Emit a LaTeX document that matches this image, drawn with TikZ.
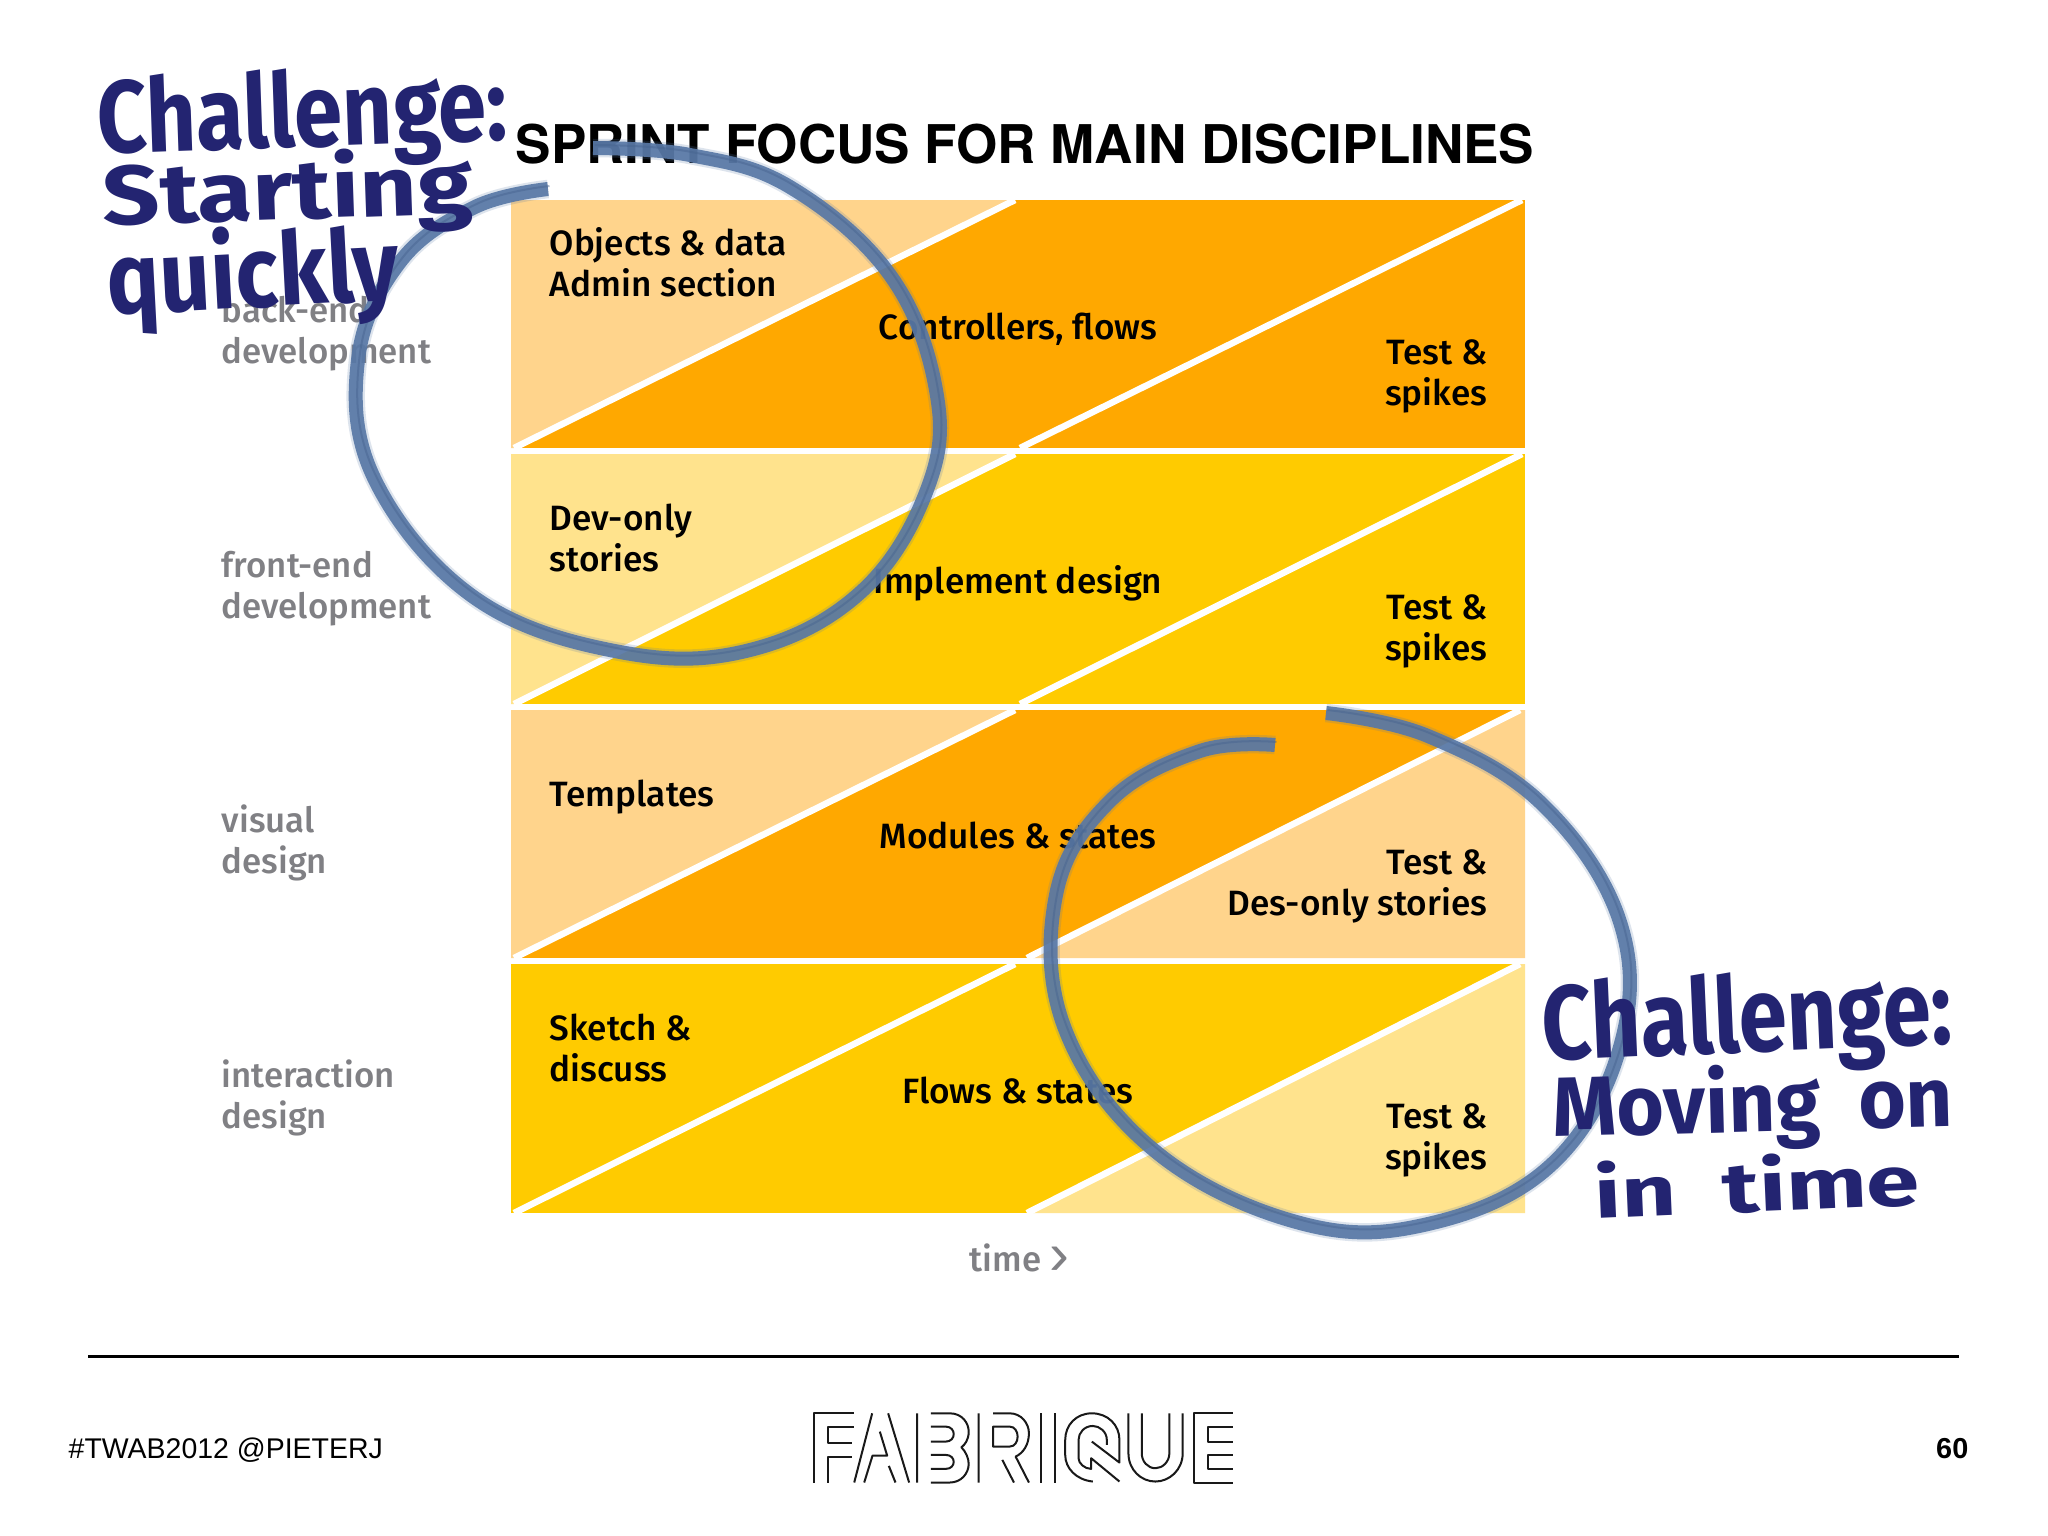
\documentclass[tikz,border=0pt]{standalone}
\usepackage{graphicx}
\usepackage{fontspec}
\setmainfont{Liberation Sans}
\newfontfamily\labfont{Fira Sans Medium}
\newfontfamily\titlefont{TeX Gyre Heros}
\newfontfamily\handfont{Fira Sans}
\definecolor{lorange}{HTML}{FFD48C}
\definecolor{dorange}{HTML}{FFA800}
\definecolor{lyellow}{HTML}{FFE38D}
\definecolor{dyellow}{HTML}{FFCB00}
\definecolor{graytxt}{HTML}{808084}
\definecolor{penblue}{HTML}{232471}
\definecolor{ringblue}{HTML}{5878A6}
\definecolor{ringdark}{HTML}{46638F}
\newcommand{\handtxt}[3]{\resizebox{#1}{#2}{\bfseries\handfont #3}}
\tikzset{
  blacklab/.style={font=\labfont\fontsize{10}{11.4}\selectfont,text=black,inner sep=0pt},
  leftlab/.style={blacklab,align=left,anchor=base west},
  rightlab/.style={blacklab,align=right,anchor=base east},
  midlab/.style={blacklab,align=center,anchor=base},
  graylab/.style={font=\labfont\fontsize{9.9}{11.4}\selectfont,text=graytxt,inner sep=0pt,align=left,anchor=base west},
  diag/.style={white,line width=0.065cm},
  handlab/.style={text=penblue,inner sep=0pt,anchor=base west},
  ringsoft/.style={ringblue,opacity=.2,line width=0.185cm,line cap=butt},
  ringmain/.style={ringblue,opacity=.92,line width=0.14cm,line cap=butt},
  ringline/.style={ringdark,opacity=.45,line width=0.02cm},
  logoline/.style={black!90,line width=0.02cm,line join=round}
}
\begin{document}
\begin{tikzpicture}[x=0.01cm,y=-0.01cm]
\useasboundingbox (0,0) rectangle (2048,1536);
\fill[white] (0,0) rectangle (2048,1536);
% bands
\fill[dorange] (511,200) rectangle (1525,448);
\fill[lorange] (511,200) -- (1015,200) -- (514,448) -- (511,448) -- cycle;
\fill[dyellow] (511,454) rectangle (1525,704);
\fill[lyellow] (511,454) -- (1015,454) -- (514,704) -- (511,704) -- cycle;
\fill[dorange] (511,710) rectangle (1525,958);
\fill[lorange] (511,710) -- (1015,710) -- (514,958) -- (511,958) -- cycle;
\fill[lorange] (1525,710) -- (1525,958) -- (1027,958) -- (1520,710) -- cycle;
\fill[dyellow] (511,964) rectangle (1525,1213);
\fill[lyellow] (1525,964) -- (1525,1213) -- (1027,1213) -- (1520,964) -- cycle;
% diagonals
\draw[diag] (514,448) -- (1015,200);
\draw[diag] (1020,448) -- (1522,200);
\draw[diag] (514,704) -- (1015,454);
\draw[diag] (1020,704) -- (1522,454);
\draw[diag] (514,958) -- (1015,710);
\draw[diag] (1027,958) -- (1520,710);
\draw[diag] (514,1213) -- (1015,964);
\draw[diag] (1027,1213) -- (1520,964);
% title
\node[inner sep=0pt,anchor=base west] (title) at (515,163) {\resizebox{10.18cm}{0.395cm}{\bfseries\titlefont SPRINT FOCUS FOR MAIN DISCIPLINES}};
% row labels
\node[graylab] (g1) at (221,363) {back-end\\development};
\node[graylab] (g2) at (221,618) {front-end\\development};
\node[graylab] (g3) at (221,873) {visual\\design};
\node[graylab] (g4) at (221,1128) {interaction\\design};
% band labels
\node[leftlab] (a1) at (549,296) {Objects \& data\\Admin section};
\node[leftlab] (a2) at (549,571) {Dev-only\\stories};
\node[leftlab] (a3) at (549,806) {Templates};
\node[leftlab] (a4) at (549,1081) {Sketch \&\\discuss};
\node[midlab] (b1) at (1018,339) {Controllers, flows};
\node[midlab] (b2) at (1018,593) {Implement design};
\node[midlab] (b3) at (1018,848) {Modules \& states};
\node[midlab] (b4) at (1018,1103) {Flows \& states};
\node[rightlab] (c1) at (1488,405) {Test \&\\spikes};
\node[rightlab] (c2) at (1488,660) {Test \&\\spikes};
\node[rightlab] (c3) at (1488,915) {Test \&\\Des-only stories};
\node[rightlab] (c4) at (1488,1169) {Test \&\\spikes};
\node[graylab] (timelab) at (969,1271) {time \raisebox{-0.035cm}{\rmfamily\fontsize{17}{17}\selectfont ›}};
% footer
\draw[black,line width=0.03cm] (88,1356) -- (1959,1356);
\node[inner sep=0pt,anchor=base west] (tag) at (68,1458) {\resizebox{3.14cm}{!}{\fontsize{8.4}{10}\selectfont \#TWAB2012 @PIETERJ}};
\node[inner sep=0pt,anchor=base east,font=\bfseries\fontsize{8.2}{10}\selectfont] (page) at (1969,1458) {60};
% logo
\begin{scope}[shift={(780,1390)},x=0.003333cm,y=-0.003333cm]
\draw[logoline] (103,278)--(103,70)--(221,70) (221,110)--(143,110)--(143,160)--(215,160) (215,200)--(143,200)--(143,278);
\draw[logoline] (223,278)--(277,70) (253,278)--(278,197)--(322,197)--(300,125) (325,70)--(388,278) (327,228)--(347,278) (412,70)--(412,278);
\draw[logoline] (453,70)--(510,70) .. controls (548,70) and (567,100) .. (567,125) .. controls (567,150) and (555,165) .. (545,172) .. controls (558,185) and (567,205) .. (567,222) .. controls (567,250) and (545,278) .. (510,278) -- (453,278);
\draw[logoline] (453,110)--(498,110) .. controls (530,110) and (530,155) .. (498,155) -- (453,155) (453,195)--(498,195) .. controls (530,195) and (530,237) .. (498,237) -- (453,237);
\draw[logoline] (597,70)--(597,278) (640,70)--(690,70) .. controls (725,70) and (748,100) .. (748,130) .. controls (748,165) and (730,190) .. (708,200) -- (748,278) (640,110)--(690,110) .. controls (722,110) and (722,170) .. (690,170) -- (640,170) -- cycle (668,210)--(703,278);
\draw[logoline] (785,70)--(785,278) (825,70)--(825,278);
\draw[logoline] (940,275) .. controls (890,270) and (857,235) .. (857,195) -- (857,150) .. controls (857,105) and (890,70) .. (937,70) .. controls (985,70) and (1020,105) .. (1020,150) -- (1020,218) -- (937,155);
\draw[logoline] (982,165) -- (982,150) .. controls (982,125) and (960,108) .. (940,108) .. controls (915,108) and (897,128) .. (897,150) -- (897,205) .. controls (897,220) and (915,237) .. (935,237) -- (935,205) -- (1020,275);
\draw[logoline] (1047,70)--(1047,190) .. controls (1047,240) and (1085,275) .. (1128,275) .. controls (1170,275) and (1210,240) .. (1210,190) -- (1210,70) (1087,70)--(1087,190) .. controls (1087,215) and (1105,235) .. (1128,235) .. controls (1150,235) and (1170,215) .. (1170,190) -- (1170,70);
\draw[logoline] (1360,70)--(1245,70)--(1245,278)--(1360,278) (1360,110)--(1285,110)--(1285,155)--(1360,155) (1360,195)--(1285,195)--(1285,237)--(1360,237);
\end{scope}
% rings
\def\ringA{(548,189) (475,207) (400,262) (358,360) (375,480) (475,598) (620,652) (750,650) (862,591) (928,487) (936,390) (890,275) (790,187) (690,155) (593,148)}
\def\ringB{(1275,745) (1200,751) (1110,801) (1056,895) (1065,1029) (1155,1151) (1300,1223) (1428,1224) (1551,1165) (1620,1047) (1620,922) (1542,804) (1428,736) (1326,713)}
\foreach \ringpts in {\ringA,\ringB}{
  \draw[ringsoft] plot[smooth,tension=.65] coordinates {\ringpts};
  \draw[ringmain] plot[smooth,tension=.65] coordinates {\ringpts};
  \begin{scope}[shift={(1.5,-3)}]
    \draw[ringline] plot[smooth,tension=.65] coordinates {\ringpts};
  \end{scope}
}
% handwriting
\node[handlab,rotate=2] (h1) at (98,154) {\handtxt{4.10cm}{0.78cm}{Challenge:}};
\node[handlab,rotate=2] (h2) at (103,226) {\handtxt{3.70cm}{0.68cm}{Starting}};
\node[handlab,rotate=3] (h3) at (108,315) {\handtxt{2.92cm}{0.82cm}{quickly}};
\node[handlab,rotate=2.5] (h4) at (1543,1061) {\handtxt{4.10cm}{0.80cm}{Challenge:}};
\node[handlab,rotate=1.5] (h5) at (1553,1137) {\handtxt{4.00cm}{0.68cm}{Moving~~on}};
\node[handlab,rotate=2.5] (h6) at (1595,1219) {\handtxt{3.25cm}{0.57cm}{in~~time}};
\end{tikzpicture}
\end{document}
